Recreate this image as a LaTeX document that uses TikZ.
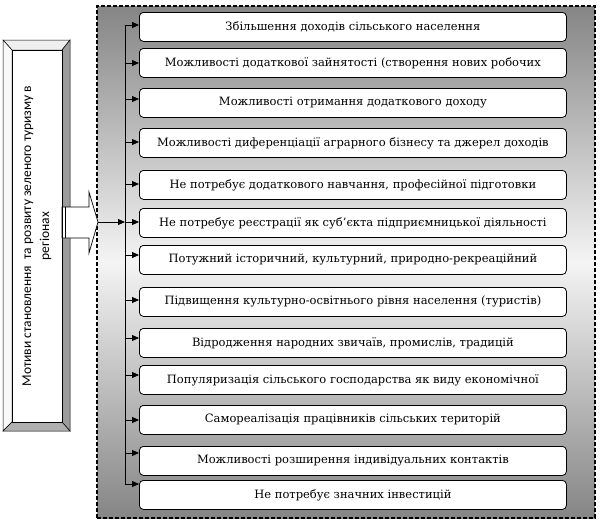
\documentclass[tikz,border=0pt]{standalone}
\usepackage{fontspec}
\setmainfont{DejaVu Serif}
\newfontfamily\leftfont{Carlito}
\usetikzlibrary{arrows.meta}
\definecolor{shadeedge}{HTML}{858585}
\definecolor{shademid}{HTML}{F4F4F4}
\definecolor{bevtop}{HTML}{EFEFEF}
\definecolor{bevleft}{HTML}{F8F8F8}
\definecolor{bevright}{HTML}{9C9C9C}
\definecolor{bevbottom}{HTML}{B0B0B0}
\begin{document}
\begin{tikzpicture}[x=1pt,y=-1pt,
  motive/.style={draw=black, line width=0.8pt, rounded corners=4pt, fill=white,
    minimum width=427pt, minimum height=29pt, inner sep=0pt, anchor=north west,
    font=\fontsize{11.5}{13}\selectfont},
  tip/.style={-{Triangle[length=7pt,width=6pt]}, line width=0.8pt},
  bevel/.style={draw=black, line width=0.5pt},
  frame/.style={draw=black, line width=1.6pt, dash pattern=on 4pt off 2pt,
    top color=shadeedge, bottom color=shadeedge, middle color=shademid,
    minimum width=498pt, minimum height=512pt, inner sep=0pt}
]
\useasboundingbox (0,0) rectangle (600,525);

% outer dashed frame
\node[frame] (fr) at (346,262) {};

% left bevelled box
\filldraw[bevel, fill=bevtop] (3,40) -- (70,40) -- (62,50) -- (12,50) -- cycle;
\filldraw[bevel, fill=bevleft] (3,40) -- (12,50) -- (12,422) -- (3,431) -- cycle;
\filldraw[bevel, fill=bevright] (70,40) -- (70,431) -- (62,422) -- (62,50) -- cycle;
\filldraw[bevel, fill=bevbottom] (3,431) -- (70,431) -- (62,422) -- (12,422) -- cycle;
\node[draw=black, line width=0.5pt, fill=white, minimum width=50pt, minimum height=372pt, inner sep=0pt] (lbox) at (37,236) {};
\node[rotate=90, align=center, font=\leftfont\fontsize{13.5}{18}\selectfont] (ltext) at (37,236)
  {Мотиви становлення\ \ та розвиту зеленого туризму в\\регіонах};

% block arrow
\filldraw[draw=black, fill=white, line width=0.7pt]
  (62,207) -- (89,207) -- (89,192) -- (98,222) -- (89,253) -- (89,238) -- (62,238) -- cycle;
\draw[line width=1pt] (62.5,207) -- (62.5,238);
\draw[line width=1pt] (65.5,207) -- (65.5,238);
\coordinate (btip) at (98,222);

% motive boxes
\node[motive] (b1)  at (139,12)  {Збільшення доходів сільського населення};
\node[motive] (b2)  at (139,48)  {Можливості додаткової зайнятості (створення нових робочих};
\node[motive] (b3)  at (139,88)  {Можливості отримання додаткового доходу};
\node[motive] (b4)  at (139,128) {Можливості диференціації аграрного бізнесу та джерел доходів};
\node[motive] (b5)  at (139,170) {Не потребує додаткового навчання, професійної підготовки};
\node[motive] (b6)  at (139,208) {Не потребує реєстрації як суб’єкта підприємницької діяльності};
\node[motive] (b7)  at (139,245) {Потужний історичний, культурний, природно-рекреаційний};
\node[motive] (b8)  at (139,287) {Підвищення культурно-освітнього рівня населення (туристів)};
\node[motive] (b9)  at (139,328) {Відродження народних звичаїв, промислів, традицій};
\node[motive] (b10) at (139,365) {Популяризація сільського господарства як виду економічної};
\node[motive] (b11) at (139,405) {Самореалізація працівників сільських територій};
\node[motive] (b12) at (139,446) {Можливості розширення індивідуальних контактів};
\node[motive] (b13) at (139,480) {Не потребує значних інвестицій};

% spine coordinates
\coordinate (a1) at (125,25);
\coordinate (a2) at (125,63);
\coordinate (a3) at (125,99);
\coordinate (a4) at (125,142);
\coordinate (a5) at (125,184);
\coordinate (a6) at (125,222);
\coordinate (a7) at (125,255);
\coordinate (a8) at (125,300);
\coordinate (a9) at (125,338);
\coordinate (a10) at (125,375);
\coordinate (a11) at (125,420);
\coordinate (a12) at (125,453);
\coordinate (a13) at (125,484);

\draw[line width=0.8pt] (a1) -- (a13);
\foreach \i in {1,...,13} {
  \draw[tip] (a\i) -- (b\i.west |- a\i);
}
\draw[tip] (btip) -- (a6);
\end{tikzpicture}
\end{document}
